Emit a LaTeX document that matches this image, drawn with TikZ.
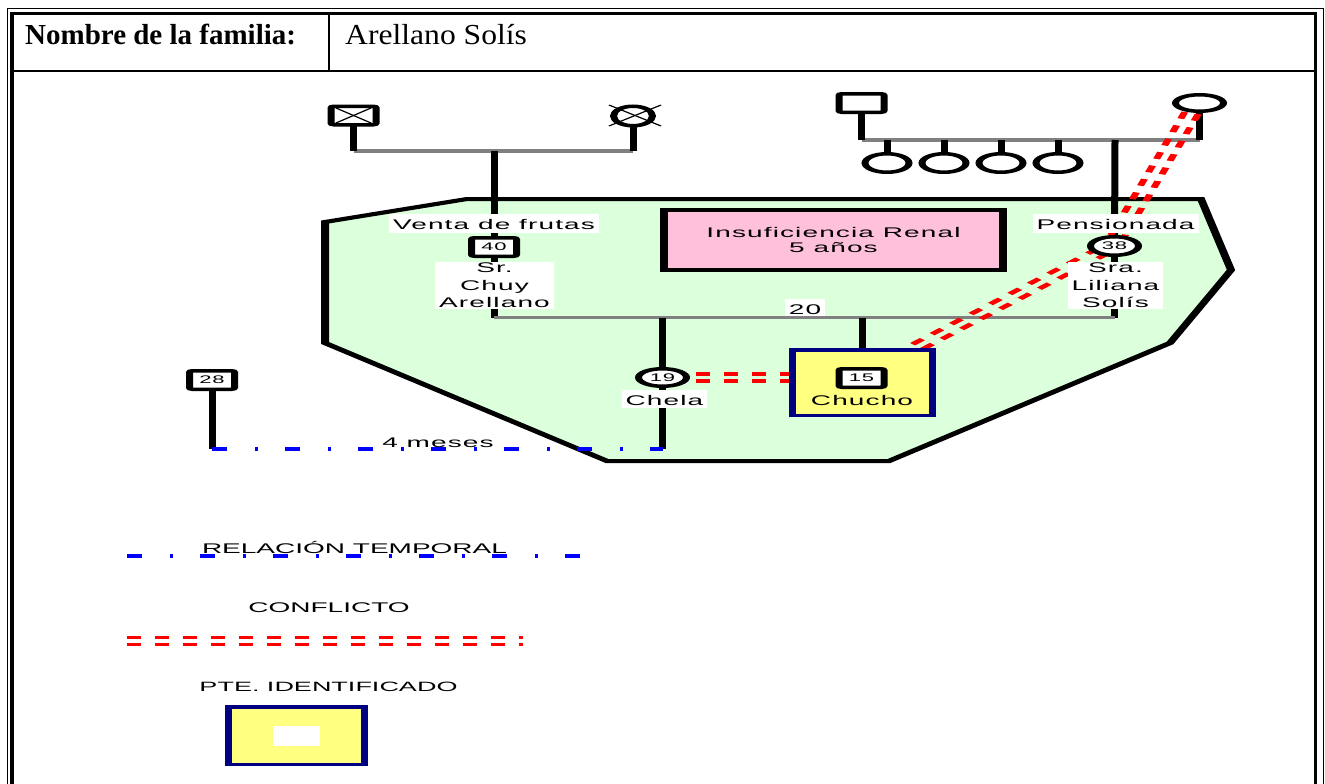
\documentclass[tikz,border=0pt]{standalone}
\usepackage{fontspec}
\setmainfont{Liberation Serif}
\newfontfamily\lab{Liberation Sans}[LetterSpace=4]
\newfontfamily\leg{Liberation Sans}
\usetikzlibrary{shapes.geometric,calc}
\definecolor{grn}{RGB}{220,255,220}
\definecolor{pnk}{RGB}{255,192,220}
\definecolor{ylw}{RGB}{255,255,128}
\definecolor{nvy}{RGB}{0,0,128}
\definecolor{gry}{RGB}{128,128,128}
\definecolor{cred}{RGB}{255,0,0}
\definecolor{cblue}{RGB}{0,0,255}
\pgfdeclarelayer{back}
\pgfdeclarelayer{mid}
\pgfsetlayers{back,mid,main}
\tikzset{
 canv/.style={x=0.5pt,y=-1pt,transform canvas={xscale=2}},
 sqp/.style={rectangle, draw=black, line width=3.5pt, fill=white, rounded corners=1.5pt, minimum width=22.5pt, minimum height=18.5pt, inner sep=0pt, font=\lab\fontsize{11}{11}\selectfont},
 cip/.style={ellipse, draw=black, line width=3.5pt, fill=white, minimum width=24pt, minimum height=17.5pt, inner sep=0pt, font=\lab\fontsize{11}{11}\selectfont},
 sib/.style={cip, minimum width=22pt, minimum height=18.5pt},
 lbl/.style={font=\lab\fontsize{14}{17.5}\selectfont, inner xsep=2pt, inner ysep=1.5pt, text height=13.5pt, text depth=2.5pt},
 wlbl/.style={lbl, fill=white},
 mlbl/.style={font=\lab\fontsize{14}{17.5}\selectfont, align=center, fill=white, inner xsep=2pt, inner ysep=1pt, anchor=north},
 legt/.style={font=\leg\fontsize{14}{14}\selectfont, inner sep=0pt, anchor=base},
 kin/.style={draw=black, line width=3.5pt},
 sibl/.style={draw=gry, line width=3.5pt},
 confl/.style={draw=cred, line width=3.5pt, dash pattern=on 7pt off 7pt},
 temp/.style={draw=cblue, line width=4pt, dash pattern=on 7.5pt off 14pt on 1.25pt off 13.75pt},
 xmark/.style={draw=black, line width=1pt},
}
\newcommand\confline[2]{%
 \draw[confl] ($(#1)!3.5pt!90:(#2)$) -- ($(#2)!3.5pt!-90:(#1)$);
 \draw[confl] ($(#1)!3.5pt!-90:(#2)$) -- ($(#2)!3.5pt!90:(#1)$);}
\begin{document}
\begin{tikzpicture}[x=1pt,y=-1pt]
\useasboundingbox (0,0) rectangle (1325,784);
% ---------- frame and header ----------
\draw[line width=1pt] (7.5,800) -- (7.5,8.5) -- (1323,8.5) -- (1323,800);
\draw[line width=3.5pt] (12,800) -- (12,13.5) -- (1315.5,13.5) -- (1315.5,800);
\draw[line width=2pt] (12,71) -- (1315.5,71);
\draw[line width=2pt] (329,13.5) -- (329,71);
\node[anchor=base west, inner sep=0pt, font=\fontsize{29}{29}\selectfont\bfseries] (hdr1) at (25,45) {Nombre de la familia:};
\node[anchor=base west, inner sep=0pt, font=\fontsize{29}{29}\selectfont] (hdr2) at (345,45) {\scalebox{1.09}[1]{Arellano Solís}};
% ---------- nodes ----------
\begin{scope}[canv]
\node[sqp] (gf1) at (353.5,115.5) {};
\node[cip, minimum width=19.5pt, minimum height=19.5pt] (gm1) at (633,116) {};
\node[sqp] (gf2) at (861.5,103) {};
\node[cip, minimum height=16.5pt] (gm2) at (1199.5,103) {};
\node[sib] (s1) at (887,163) {};
\node[sib] (s2) at (944,163) {};
\node[sib] (s3) at (1001,163) {};
\node[sib] (s4) at (1058,163) {};
\node[sqp] (dad) at (494,247) {40};
\node[cip, minimum height=18.5pt] (mom) at (1114.5,246) {38};
\node[cip] (chela) at (662.5,377.5) {19};
\node[draw=nvy, fill=ylw, line width=3.5pt, minimum width=70pt, minimum height=65.5pt, inner sep=0pt] (chucho) at (862.5,382.5) {};
\node[sqp] (p15) at (861.5,378) {15};
\node[sqp] (p28) at (212,380) {28};
\draw[xmark] ([shift={(-17.5,-7.5)}]gf1.center) -- ([shift={(17.5,7.5)}]gf1.center);
\draw[xmark] ([shift={(-17.5,7.5)}]gf1.center) -- ([shift={(17.5,-7.5)}]gf1.center);
\draw[xmark] ([shift={(-24,-11)}]gm1.center) -- ([shift={(28,10)}]gm1.center);
\draw[xmark] ([shift={(28,-11)}]gm1.center) -- ([shift={(-24,10)}]gm1.center);
\node[wlbl, anchor=base] (venta) at (494,229) {Venta de frutas};
\node[mlbl] (sr) at (494.5,262) {Sr.\\Chuy\\Arellano};
\node[wlbl, anchor=base] (pens) at (1115.5,229) {Pensionada};
\node[mlbl] (sra) at (1115.5,262) {Sra.\\Liliana\\Solís};
\node[wlbl, anchor=base, text depth=0.5pt] (twenty) at (805,314) {20};
\node[wlbl, anchor=base, text depth=1pt] (chelalbl) at (664.5,405) {Chela};
\node[lbl, anchor=base] (chuchol) at (862,405) {Chucho};
\node[lbl, anchor=base, inner sep=0pt] (meses) at (438,447) {4 meses};
\node[fill=pnk, draw=black, line width=4.2pt, minimum width=169.3pt, minimum height=59.8pt, align=center, font=\lab\fontsize{14}{15.7}\selectfont] (ir) at (833.5,240) {Insuficiencia Renal\\5 años};
% legend
\node[legt] (lrel) at (354.5,553) {RELACIÓN TEMPORAL};
\node[legt] (lcon) at (329,612) {CONFLICTO};
\node[legt, font=\leg\fontsize{13.5}{13.5}\selectfont] (lpte) at (328.5,691) {PTE. IDENTIFICADO};
\node[draw=nvy, fill=ylw, line width=3.5pt, minimum width=68pt, minimum height=57.5pt, inner sep=0pt] (lbox) at (296.5,735.5) {};
\node[fill=white, minimum width=23.5pt, minimum height=20pt, inner sep=0pt] (lboxin) at (296.5,736) {};
\end{scope}
% ---------- household polygon ----------
\begin{pgfonlayer}{back}
\begin{scope}[canv]
\draw[fill=grn, line width=4pt, line join=miter] (325,222) -- (467,199) -- (1201,199) -- (1231,270) -- (1170,343) -- (889,461) -- (607,461) -- (325,343) -- cycle;
\end{scope}
\end{pgfonlayer}
% ---------- connectors ----------
\begin{pgfonlayer}{mid}
\begin{scope}[canv]
\coordinate (pj) at (494,151);
\draw[sibl] (gf1.center |- pj) -- (gm1.center |- pj);
\draw[kin] (gf1.center) -- (gf1.center |- pj);
\draw[kin] (gm1.center) -- (gm1.center |- pj);
\draw[kin] (pj) -- (dad.center);
\coordinate (mj) at (1115,140);
\draw[sibl] (gf2.center |- mj) -- (gm2.center |- mj);
\draw[kin] (gf2.center) -- (gf2.center |- mj);
\draw[kin] (gm2.center) -- (gm2.center |- mj);
\foreach \s in {s1,s2,s3,s4} \draw[kin] (\s.center) -- (\s.center |- mj);
\draw[kin] (mj) -- (mom.center);
\coordinate (mar) at (862,317.5);
\draw[kin] (dad.center) -- (dad.center |- mar);
\draw[kin] (mom.center) -- (mom.center |- mar);
\draw[sibl] (dad.center |- mar) -- (mom.center |- mar);
\coordinate (tl) at (663,449);
\draw[kin] (chela.center |- mar) -- (chela.center |- tl);
\draw[kin] (chucho.center |- mar) -- (chucho.center);
\draw[kin] (p28.center) -- (p28.center |- tl);
\draw[temp] (p28.center |- tl) -- (chela.center |- tl);
\coordinate (cA1) at ([shift={(-8,10)}]gm2.center);
\coordinate (cA2) at ([shift={(3,-10)}]mom.center);
\coordinate (cB1) at ([shift={(-12,5)}]mom.center);
\coordinate (cB2) at ([shift={(-21,0)}]chucho.north east);
\coordinate (cC1) at ([shift={(6,0)}]chela.east);
\coordinate (cC2) at (chela.east -| chucho.west);
\confline{cA1}{cA2}
\confline{cB1}{cB2}
\confline{cC1}{cC2}
\coordinate (lt1) at (127,556);
\coordinate (lt2) at (580,556);
\draw[temp] (lt1) -- (lt2);
\coordinate (lc1) at (127,641);
\coordinate (lc2) at (523,641);
\confline{lc1}{lc2}
\end{scope}
\end{pgfonlayer}
\end{tikzpicture}
\end{document}
